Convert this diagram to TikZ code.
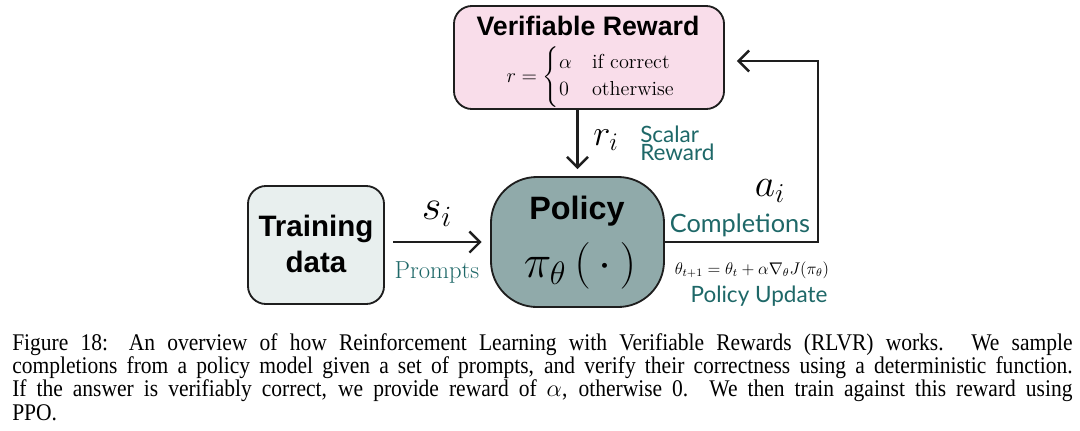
\documentclass[tikz,border=0pt]{standalone}
\usepackage{amsmath}
\usepackage{graphicx}
\usepackage{fontspec}
\usetikzlibrary{arrows.meta}
\newfontfamily\titlesans{Liberation Sans}
\newfontfamily\labelsans{Lato}
\newfontfamily\capfont{Liberation Serif}[FakeStretch=0.9]
\newcommand\bigmath[2]{\scalebox{#1}{\fontsize{20.74}{20.74}\selectfont$#2$}}
\definecolor{rewardpink}{RGB}{249,221,234}
\definecolor{datagray}{RGB}{232,239,238}
\definecolor{policyteal}{RGB}{144,170,170}
\definecolor{labelteal}{RGB}{30,104,104}
\definecolor{edge}{RGB}{30,30,30}
\tikzset{
  boxbase/.style={draw=edge, line width=1.3pt, inner sep=0pt},
  rewardbox/.style={boxbase, fill=rewardpink, minimum width=6.75cm, minimum height=2.575cm, rounded corners=0.45cm},
  databox/.style={boxbase, fill=datagray, minimum width=3.4cm, minimum height=2.95cm, rounded corners=0.45cm},
  policybox/.style={boxbase, fill=policyteal, minimum width=4.325cm, minimum height=3.25cm, rounded corners=1.15cm},
  arr/.style={draw=edge, line width=1.7pt, -{Straight Barb[length=7.5pt,width=15pt,line width=1.7pt]}},
  teallabel/.style={text=labelteal, inner sep=0pt},
  mathlbl/.style={inner sep=0pt},
}
\begin{document}
\begin{tikzpicture}[x=0.025cm, y=-0.025cm]
\useasboundingbox[fill=white] (0,0) rectangle (1080,430);

% boxes
\node[rewardbox] (reward) at (589,57.5) {};
\node[databox] (data) at (316,245) {};
\node[policybox] (policy) at (577.5,242) {};

% texts in boxes
\node[inner sep=0pt, font=\titlesans\bfseries\fontsize{19}{19}\selectfont] (rtitle) at (588,26) {Verifiable Reward};
\node[inner sep=0pt, font=\fontsize{14.4}{16}\selectfont] (rformula) at (591,77)
  {$r=\begin{cases}\alpha & \text{if correct}\\ 0 & \text{otherwise}\end{cases}$};
\node[inner sep=0pt, align=center, font=\titlesans\bfseries\fontsize{21}{26}\selectfont] (dtext) at (316,244) {Training\\data};
\node[inner sep=0pt, font=\titlesans\bfseries\fontsize{23}{23}\selectfont] (ptitle) at (577,211) {Policy};
\node[inner sep=0pt] (pmath) at (580,266) {\bigmath{1.6}{\pi_\theta\,(\,\cdot\,)}};

% connectors
\coordinate (c1) at (818,242);
\coordinate (c2) at (818,61);
\draw[arr, shorten >=5pt] (reward.south -| policy.north) -- (policy.north);
\draw[arr, shorten <=6pt, shorten >=6pt] (data.east |- policy.west) -- (policy.west);
\draw[arr, shorten >=8.5pt] (policy.east) -- (c1) -- (c2) -- (reward.east |- c2);

% labels
\node[mathlbl] (rlab) at (606,140) {\bigmath{1.25}{r_i}};
\node[teallabel, anchor=west, align=left, font=\labelsans\fontsize{16}{13}\selectfont] (scalar) at (640,143) {Scalar\\Reward};
\node[mathlbl] (slab) at (437,214) {\bigmath{1.45}{s_i}};
\node[teallabel, font=\fontsize{17.5}{17.5}\selectfont] (prompts) at (437,272) {Prompts};
\node[mathlbl] (alab) at (770,191) {\bigmath{1.35}{a_i}};
\node[teallabel, font=\labelsans\fontsize{18}{18}\selectfont] (compl) at (740,225) {Completions};
\node[mathlbl, font=\fontsize{12}{12}\selectfont] (upd) at (752,270) {$\theta_{t+1}=\theta_t+\alpha\nabla_\theta J(\pi_\theta)$};
\node[teallabel, font=\labelsans\fontsize{16}{16}\selectfont] (pupd) at (759,296) {Policy Update};

% caption
\node[anchor=north west, inner sep=0pt, text width=26.5cm, align=justify,
  font=\capfont\fontsize{17}{16.6}\selectfont] (caption) at (12,333)
  {Figure 18: An overview of how Reinforcement Learning with Verifiable Rewards (RLVR) works. We sample\linebreak
   completions from a policy model given a set of prompts, and verify their correctness using a deterministic function.\linebreak
   If the answer is verifiably correct, we provide reward of $\alpha$, otherwise 0. We then train against this reward using\linebreak
   PPO.};
\end{tikzpicture}
\end{document}
